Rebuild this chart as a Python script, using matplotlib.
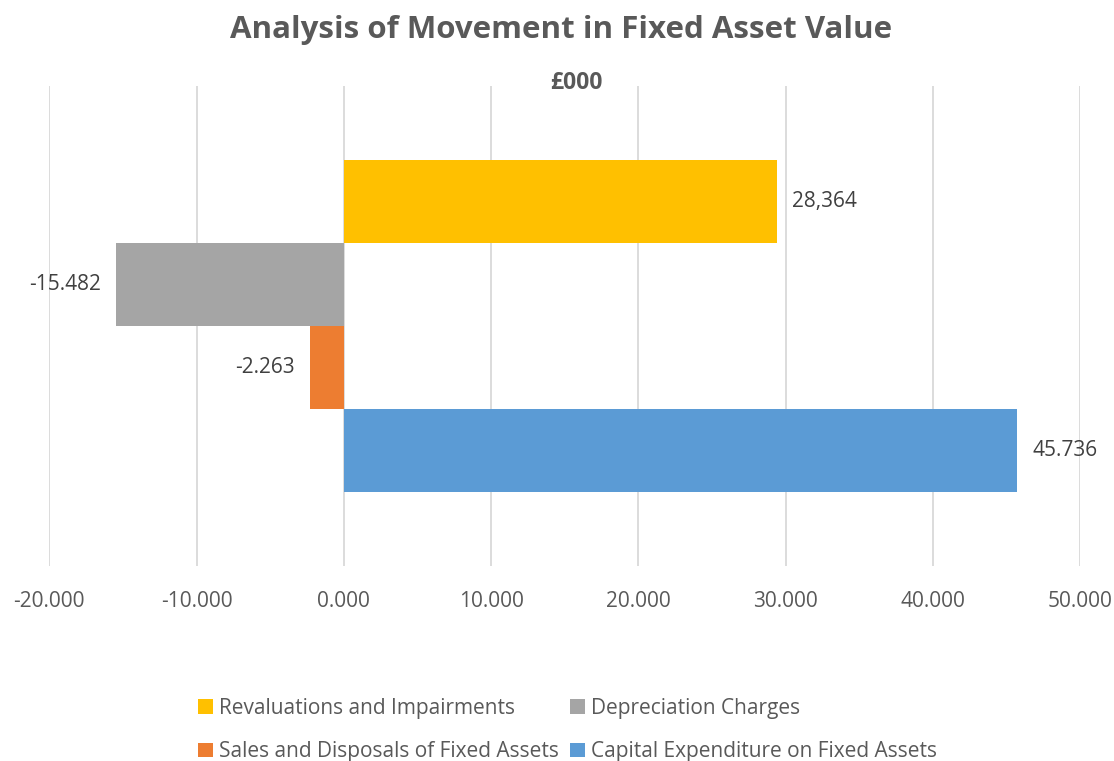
import matplotlib
matplotlib.use("Agg")
import matplotlib.pyplot as plt
from matplotlib.patches import Patch
from matplotlib.ticker import FuncFormatter

plt.rcParams['font.family'] = ['Open Sans', 'DejaVu Sans']

# ---- data ----
series = ["Revaluations and Impairments", "Depreciation Charges",
          "Sales and Disposals of Fixed Assets", "Capital Expenditure on Fixed Assets"]
values = [29.4, -15.482, -2.263, 45.736]
value_labels = ["28,364", "-15.482", "-2.263", "45.736"]
colors = ["#FFC000", "#A5A5A5", "#ED7D31", "#5B9BD5"]
x_ticks = [-20, -10, 0, 10, 20, 30, 40, 50]
title = "Analysis of Movement in Fixed Asset Value"
subtitle = "£000"

W, H = 1114, 761
fig = plt.figure(figsize=(W / 100, H / 100), dpi=100)
ax = fig.add_axes([49.3 / W, 1 - 566 / H, (1080 - 49.3) / W, 480 / H])

n = len(series)
for i, (name, v, lab, c) in enumerate(zip(series, values, value_labels, colors)):
    cont = ax.barh(n - 1 - i, v, height=1.0, color=c, label=name, zorder=3)
    ax.bar_label(cont, labels=[lab], padding=11, fontsize=15, color="#404040")

ax.set_xlim(x_ticks[0], x_ticks[-1])
ax.set_ylim(-1.4, n - 1 + 1.4)
ax.set_xticks(x_ticks)
ax.xaxis.set_major_formatter(FuncFormatter(lambda v, p: f"{v:.3f}"))
ax.set_yticks([])
ax.grid(axis='x', color="#D9D9D9", linewidth=1.3, zorder=0)
for s in ax.spines.values():
    s.set_visible(False)
ax.tick_params(axis='x', length=0, pad=18, labelsize=15, labelcolor="#595959")

fig.text(561 / W, 1 - 30 / H, title, ha='center', va='center',
         fontsize=22.5, fontweight='bold', color="#595959")
fig.text(576 / W, 1 - 83 / H, subtitle, ha='center', va='center',
         fontsize=16.5, fontweight='bold', color="#595959")

# legend laid out row by row (matplotlib fills columns first)
ncol = 2
order = [r * ncol + c for c in range(ncol) for r in range((len(series) + ncol - 1) // ncol)]
handles = [Patch(facecolor=colors[k], edgecolor='none') for k in order]
labels = [series[k] for k in order]
fig.legend(handles, labels, loc='upper left', bbox_to_anchor=(198 / W, 1 - 698 / H),
           ncol=ncol, frameon=False, fontsize=15, labelcolor="#595959",
           handlelength=0.7, handleheight=0.7, handletextpad=0.3,
           columnspacing=0.55, labelspacing=1.07, borderpad=0, borderaxespad=0)

fig.savefig("out.png", dpi=100)
